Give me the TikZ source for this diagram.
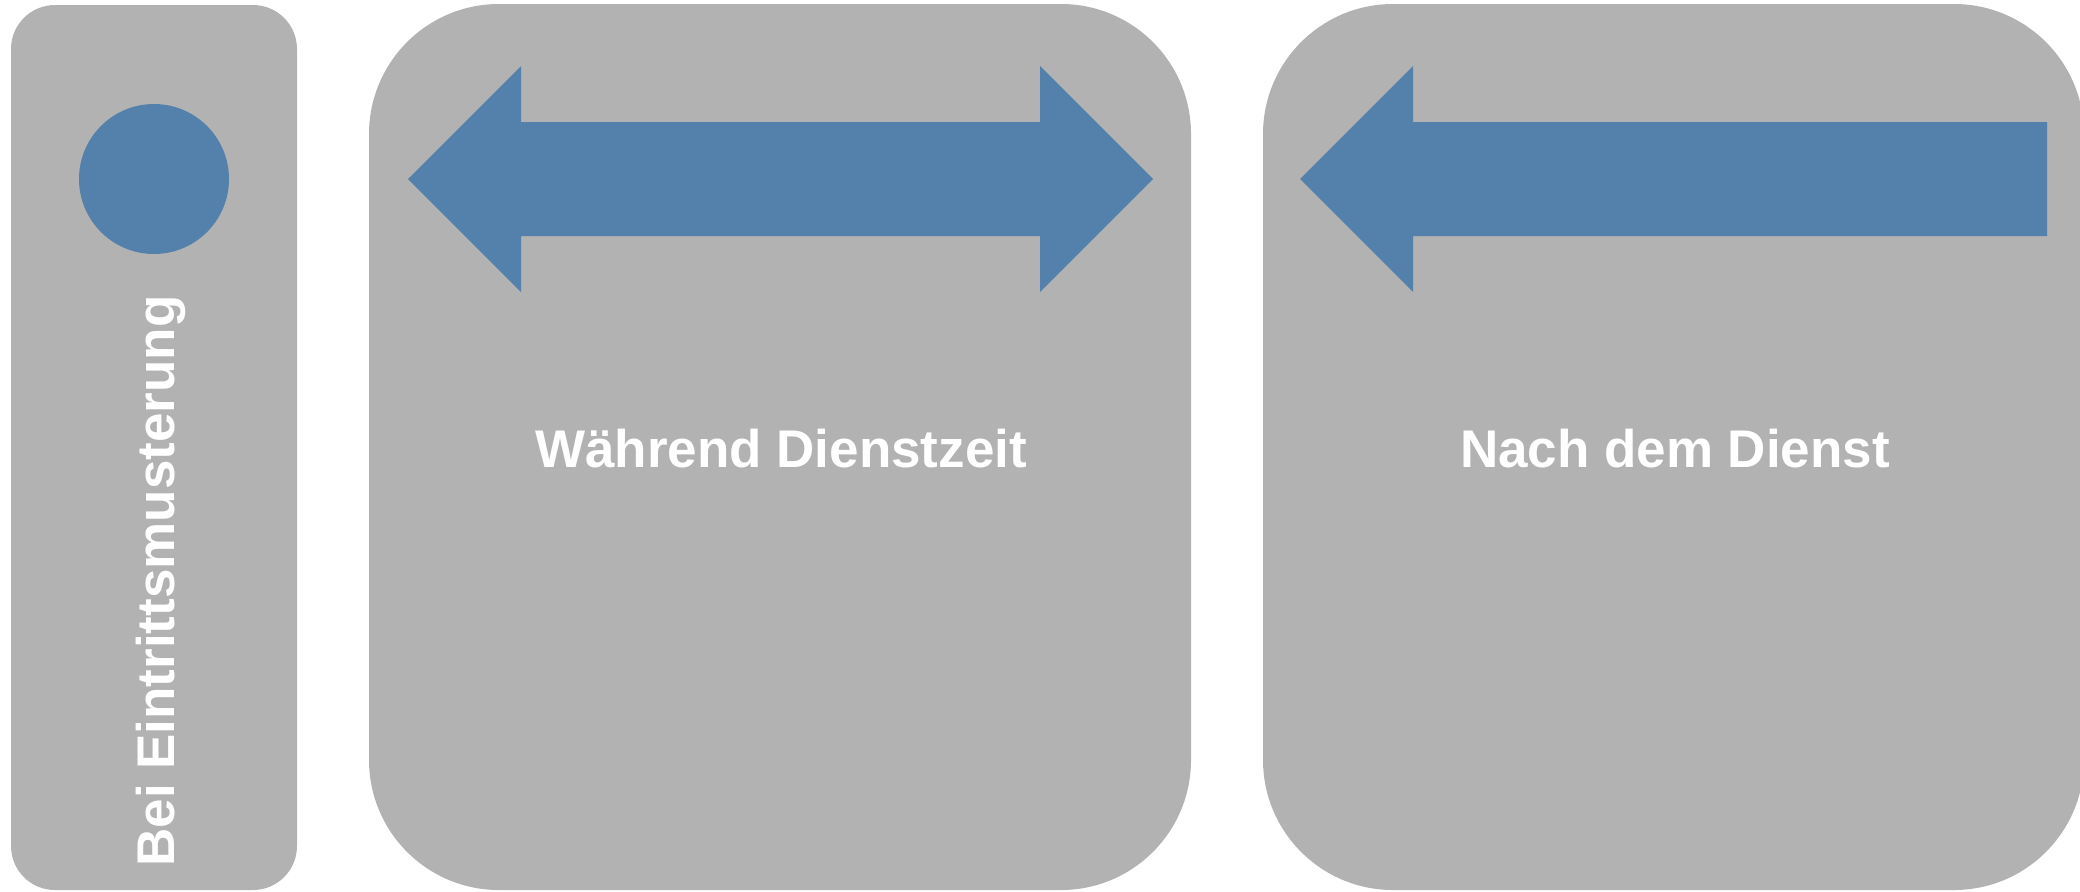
\documentclass[tikz,border=0pt]{standalone}
\usepackage{fontspec}
\setmainfont{Liberation Sans}
\definecolor{panelgray}{RGB}{178,178,178}
\definecolor{arrowblue}{RGB}{84,129,171}
\tikzset{
  panel/.style={fill=panelgray, draw=none},
  bluefill/.style={fill=arrowblue, draw=none},
  label/.style={text=white, font=\fontsize{26.5}{30}\selectfont\bfseries, inner sep=0pt, anchor=base}
}
\begin{document}
\begin{tikzpicture}[x=0.5pt, y=-0.5pt]
  \useasboundingbox (0,0) rectangle (2080,891);
  \clip (0,0) rectangle (2080,891);
  % panels
  \path[panel, rounded corners=22pt] (11,5) rectangle (297,890);
  \path[panel, rounded corners=65pt] (369,4) rectangle (1191,890);
  \path[panel, rounded corners=65pt] (1263,4) rectangle (2084,890);
  % circle
  \path[bluefill] (154,179) circle[radius=37.5pt];
  % double arrow
  \path[bluefill] (408,179) -- (521,66) -- (521,122) -- (1040,122) -- (1040,66)
     -- (1153,179) -- (1040,292) -- (1040,236) -- (521,236) -- (521,292) -- cycle;
  % left arrow
  \path[bluefill] (1300,179) -- (1413,66) -- (1413,122) -- (2047,122) -- (2047,236)
     -- (1413,236) -- (1413,292) -- cycle;
  % labels
  \node[label, rotate=90] (t1) at (174,581) {Bei Eintrittsmusterung};
  \node[label] (t2) at (781,467) {Während Dienstzeit};
  \node[label] (t3) at (1675,467) {Nach dem Dienst};
\end{tikzpicture}
\end{document}
